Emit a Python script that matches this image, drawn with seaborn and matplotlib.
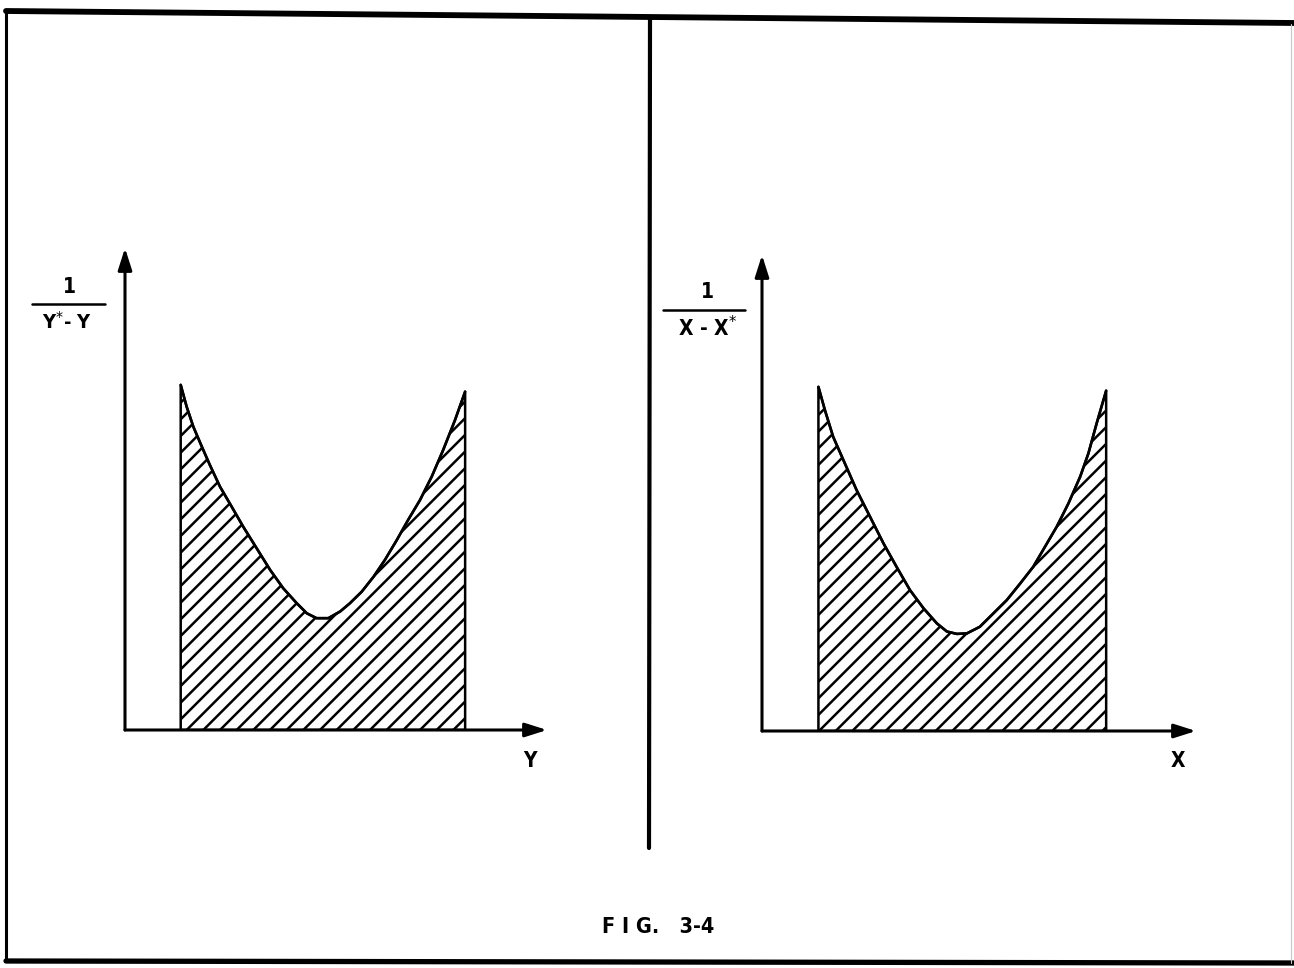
import numpy as np
import pandas as pd
import matplotlib
matplotlib.use("Agg")
import matplotlib.pyplot as plt
import seaborn as sns

sns.set_theme(style="white")
plt.rcParams['font.family'] = ['DejaVu Sans']
plt.rcParams['hatch.linewidth'] = 1.8

# ---------------- data (axis units 0..10) ----------------
left_x = [1.32, 1.46, 1.62, 1.82, 2.01, 2.25, 2.53, 2.80, 3.12, 3.44, 3.75, 4.07, 4.31,
          4.54, 4.82, 5.10, 5.33, 5.61, 5.89, 6.16, 6.44, 6.71, 6.99, 7.27, 7.54, 7.82, 8.06]
left_y = [7.16, 6.71, 6.29, 5.88, 5.50, 5.05, 4.63, 4.22, 3.77, 3.32, 2.94, 2.63, 2.42,
          2.32, 2.32, 2.46, 2.63, 2.87, 3.18, 3.53, 3.94, 4.36, 4.77, 5.26, 5.81, 6.43, 7.02]
right_x = [1.30, 1.45, 1.64, 1.91, 2.18, 2.49, 2.80, 3.10, 3.41, 3.72, 4.03, 4.26, 4.49,
           4.72, 5.02, 5.33, 5.64, 5.95, 6.25, 6.52, 6.79, 7.06, 7.33, 7.52, 7.71, 7.93]
right_y = [7.23, 6.74, 6.18, 5.62, 5.06, 4.50, 3.94, 3.45, 2.96, 2.58, 2.26, 2.09, 2.04,
           2.05, 2.19, 2.47, 2.75, 3.10, 3.45, 3.87, 4.29, 4.78, 5.34, 5.83, 6.46, 7.15]

left_num, left_den, left_xlabel = "1", r"Y$^{*}$- Y", "Y"
right_num, right_den, right_xlabel = "1", r"X - X$^{*}$", "X"
caption = "F I G.   3-4"

# ---------------- layout (pixels) ----------------
W, H = 1294, 968
fig = plt.figure(figsize=(W / 100, H / 100), dpi=100)
fig.patch.set_facecolor("white")

bg = fig.add_axes([0, 0, 1, 1])
bg.set_xlim(0, W)
bg.set_ylim(H, 0)
bg.set_axis_off()
bg.set_zorder(0)

# page frame
bg.plot([6, 1294], [11, 23], color="black", lw=4.2, solid_capstyle="round")
bg.plot([6, 6], [11, 961], color="black", lw=2.2)
bg.plot([6, 1294], [961, 963], color="black", lw=3.8)
bg.plot([1291, 1291], [24, 963], color="#c8c8c8", lw=0.8)
# middle divider
bg.plot([650, 649], [17, 848], color="black", lw=3.0, solid_capstyle="round")

txt = dict(family="DejaVu Sans", fontweight="bold", fontstretch="condensed",
           color="black", ha="center", va="center")

# fraction labels
bg.text(69, 287, left_num, fontsize=15, **txt)
bg.plot([32, 105], [304, 304], color="black", lw=1.8)
bg.text(67, 322, left_den, fontsize=14.5, **txt)

bg.text(707, 292, right_num, fontsize=15, **txt)
bg.plot([663, 745], [310, 310], color="black", lw=1.8)
bg.text(707, 328, right_den, fontsize=15, **txt)

bg.text(530, 761, left_xlabel, fontsize=15, **txt)
bg.text(1178, 761, right_xlabel, fontsize=15, **txt)
bg.text(658, 927, caption, fontsize=15.5, **txt)


def panel(px0, px1, py_bottom, py_top, xs, ys):
    ax = fig.add_axes([px0 / W, 1 - py_bottom / H, (px1 - px0) / W, (py_bottom - py_top) / H])
    ax.set_xlim(0, 10)
    ax.set_ylim(0, 10)
    ax.patch.set_alpha(0)
    ax.set_axis_off()
    ax.set_zorder(1)
    arrow = dict(arrowstyle="-|>,head_length=1.1,head_width=0.35", color="black",
                 lw=2.2, shrinkA=0, shrinkB=0)
    ax.annotate("", xy=(10, 0), xytext=(0, 0), arrowprops=arrow, annotation_clip=False)
    ax.annotate("", xy=(0, 10), xytext=(0, 0), arrowprops=arrow, annotation_clip=False)
    df = pd.DataFrame({"x": xs, "y": ys})
    ax.fill_between(df["x"], 0, df["y"], facecolor="none", edgecolor="black",
                    hatch="//", linewidth=1.8)
    sns.lineplot(data=df, x="x", y="y", sort=False, estimator=None, color="black",
                 linewidth=1.9, ax=ax)
    return ax


panel(125, 547, 730, 248, left_x, left_y)
panel(762, 1196, 731, 255, right_x, right_y)

fig.savefig("out.png", dpi=100, facecolor="white")
